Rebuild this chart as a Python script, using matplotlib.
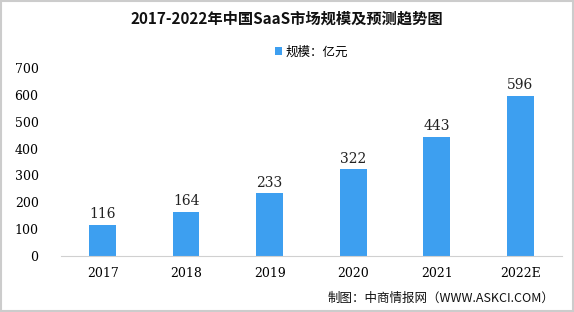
import matplotlib.pyplot as plt
from matplotlib.patches import Rectangle

plt.rcParams['font.family'] = ['Noto Sans CJK SC', 'DejaVu Sans']

years = ["2017", "2018", "2019", "2020", "2021", "2022E"]
market_size = [116, 164, 233, 322, 443, 596]
yticks = [0, 100, 200, 300, 400, 500, 600, 700]

bar_color = "#3d9ff0"

fig = plt.figure(figsize=(5.74, 3.12), dpi=100)
ax = fig.add_axes([0.106, 0.18, 0.873, 0.602])

x = range(len(years))
bars = ax.bar(x, market_size, width=0.32, color=bar_color, label="规模：亿元")
for xi, v in zip(x, market_size):
    ax.text(xi, v + 14, str(v), ha="center", va="bottom", fontsize=10, color="#222222",
            family="DejaVu Serif")

ax.set_xlim(-0.5, len(years) - 0.5)
ax.set_ylim(0, 700)
ax.set_yticks(yticks)
ax.set_yticklabels([str(t) for t in yticks], family="DejaVu Serif", fontsize=9)
ax.set_xticks(list(x))
ax.set_xticklabels(years, family="DejaVu Serif", fontsize=9)
ax.tick_params(length=0, pad=8)
ax.tick_params(axis="y", pad=16)
for s in ["top", "right", "left"]:
    ax.spines[s].set_visible(False)
ax.spines["bottom"].set_color("#d0d0d0")

fig.text(0.5, 0.94, "2017-2022年中国SaaS市场规模及预测趋势图", ha="center", va="center",
         fontsize=11, fontweight="bold", color="#111111")
ax.legend(loc="center", bbox_to_anchor=(0.5, 1.085), frameon=False, fontsize=9,
          handlelength=0.6, handleheight=0.6, handletextpad=0.3)
fig.text(0.965, 0.045, "制图：中商情报网（WWW.ASKCI.COM）", ha="right", va="center",
         fontsize=9, color="#111111")

fig.patches.append(Rectangle((0.002, 0.003), 0.996, 0.994, transform=fig.transFigure,
                             fill=False, edgecolor="#cccccc", linewidth=1.5))

fig.savefig("out.png", dpi=100)
